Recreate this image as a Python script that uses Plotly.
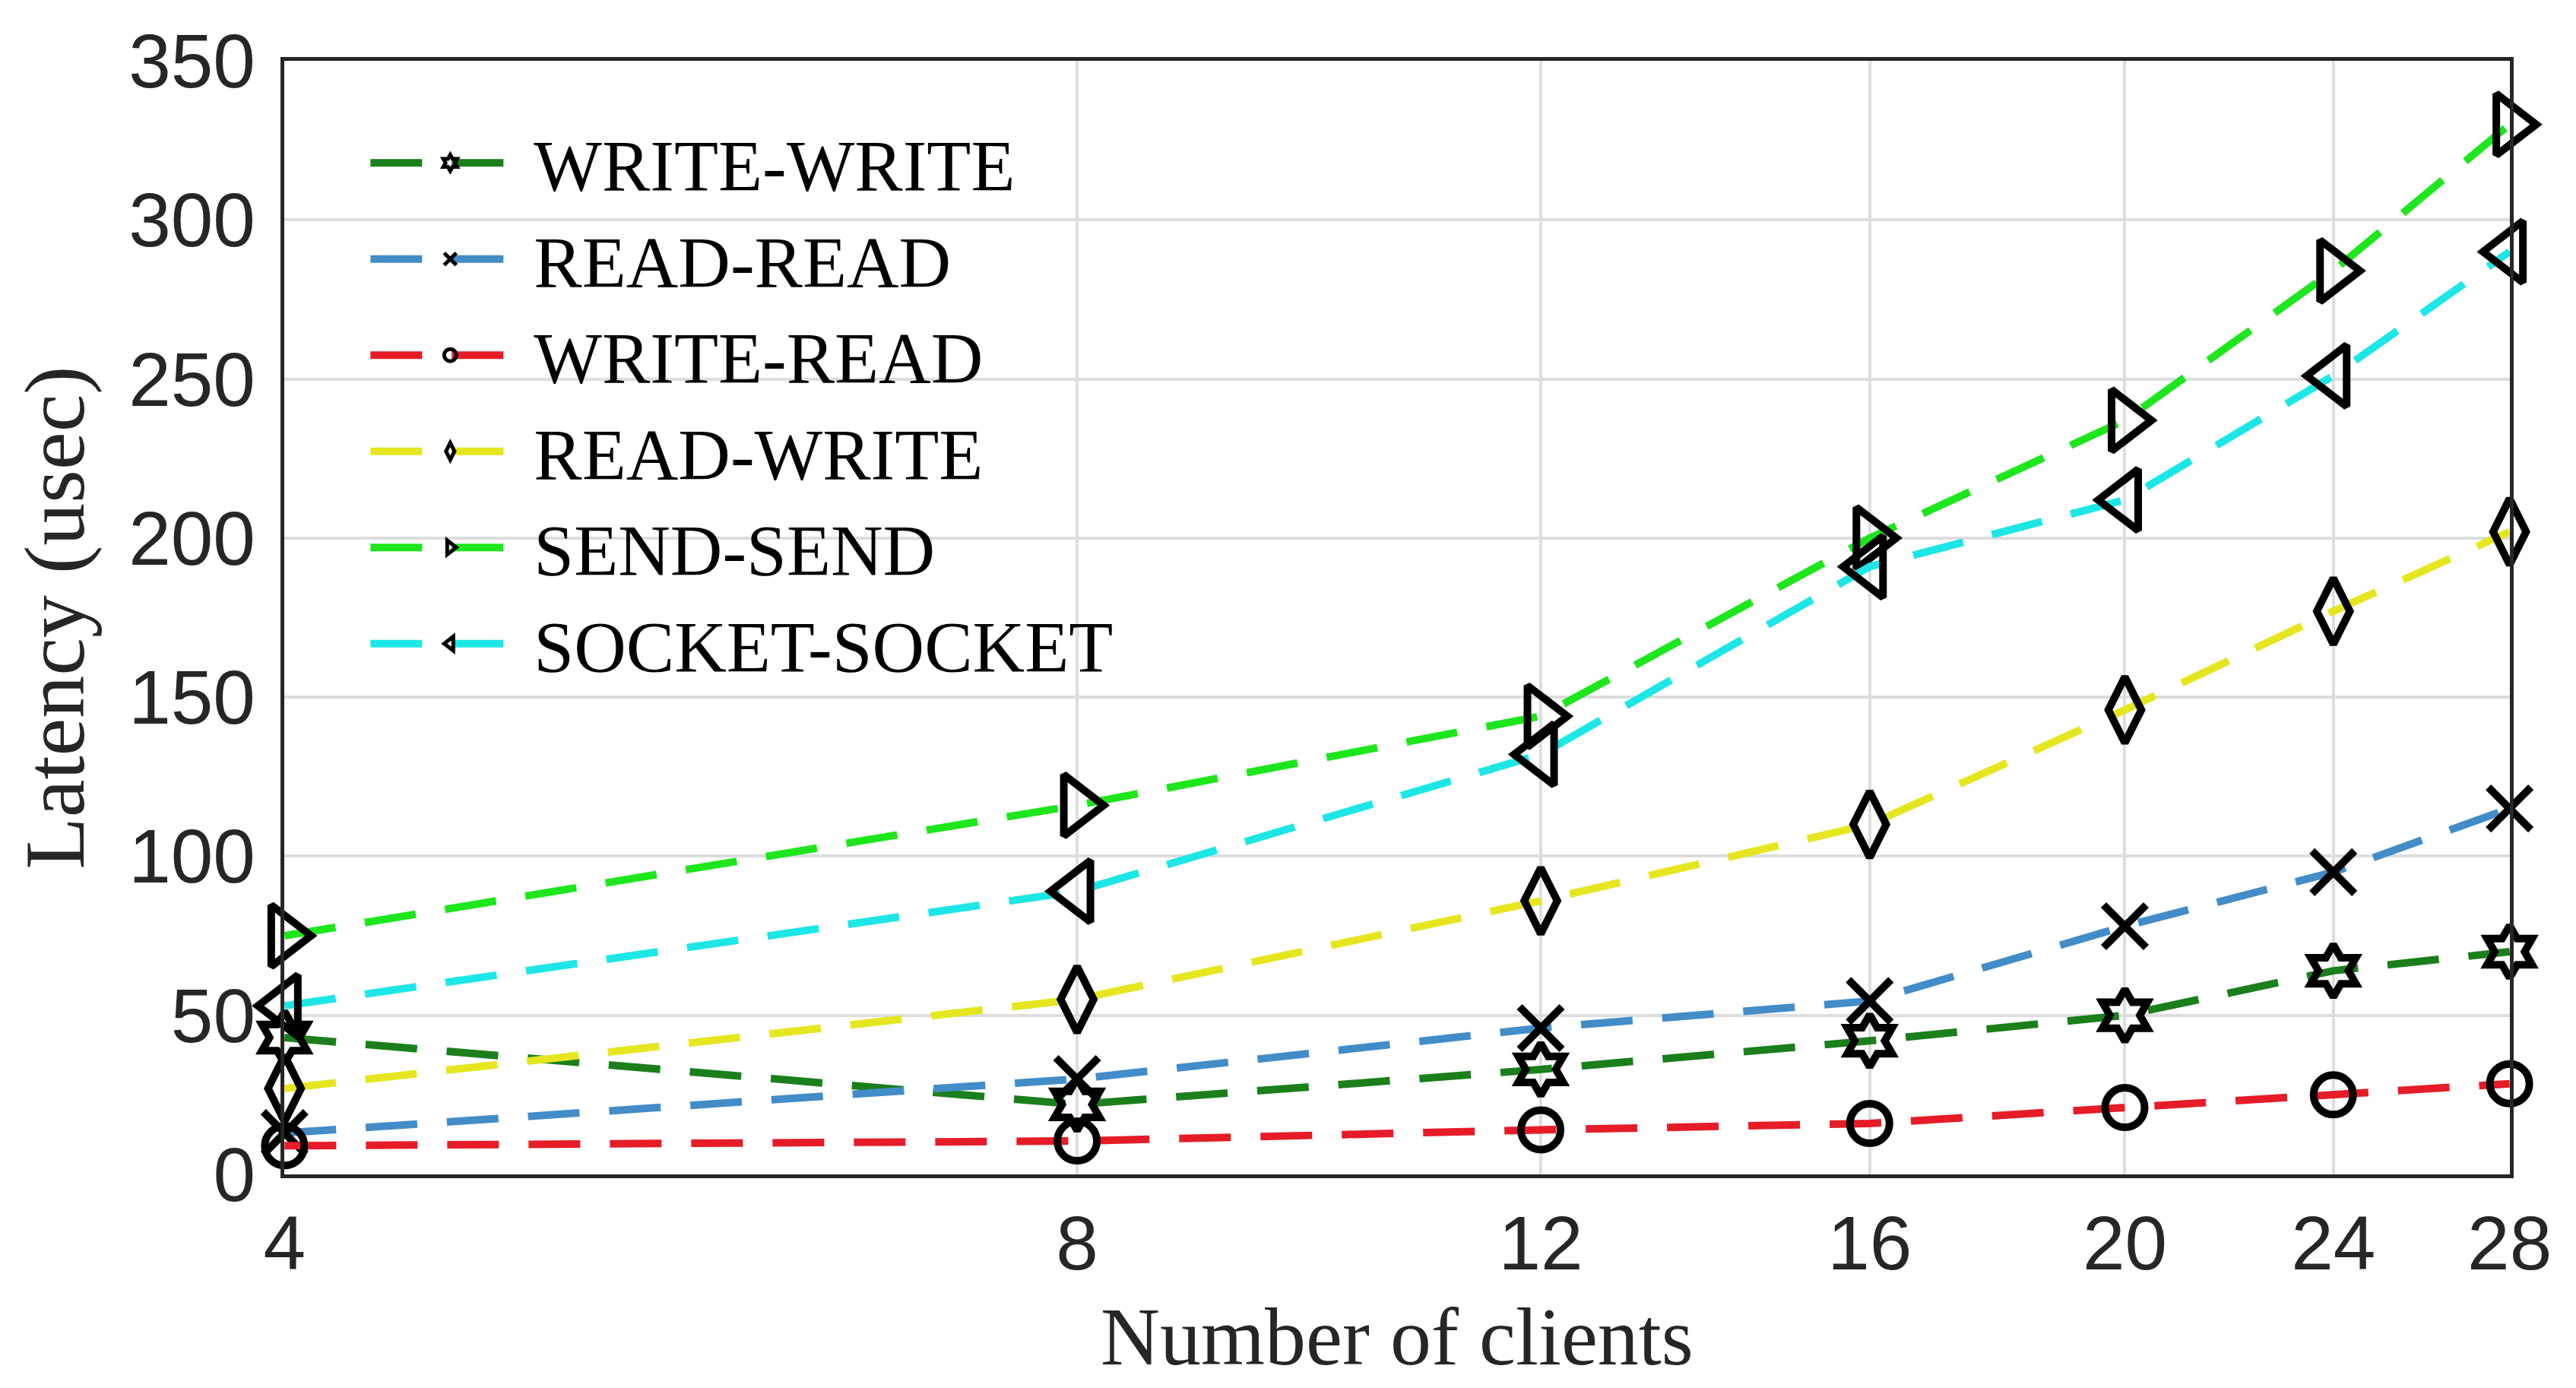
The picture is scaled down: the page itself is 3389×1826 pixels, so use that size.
import math

import plotly.graph_objects as go

# Latência por número de clientes
clients = [4, 8, 12, 16, 20, 24, 28]
write_write = [43, 22, 33, 42, 50, 64, 70]
read_read = [13, 30, 46, 54.5, 78, 95, 115]
write_read = [9, 10.5, 14, 16, 21, 25, 28.5]
read_write = [27, 55, 86, 110, 146, 177, 202]
send_send = [75, 116, 144, 200, 237, 284, 330]
socket_socket = [53, 89, 132, 191, 212, 251, 290]

series = [
    ("WRITE-WRITE", write_write, "#1b7f1b", "hexagram-open", 52),
    ("READ-READ", read_read, "#428cc8", "x-thin-open", 56),
    ("WRITE-READ", write_read, "#e61c27", "circle-open", 52),
    ("READ-WRITE", read_write, "#e6e620", "diamond-tall-open", 62),
    ("SEND-SEND", send_send, "#1de61d", "triangle-right-open", 70),
    ("SOCKET-SOCKET", socket_socket, "#1de6e6", "triangle-left-open", 70),
]

serif = "Liberation Serif, Times New Roman, serif"
sans = "Liberation Sans, Arial, sans-serif"

fig = go.Figure()
for name, vals, color, symbol, size in series:
    fig.add_trace(go.Scatter(
        x=clients,
        y=vals,
        name=name,
        mode="lines+markers",
        cliponaxis=False,
        line=dict(color=color, width=10, dash="68px,39px"),
        marker=dict(symbol=symbol, size=size, color="black",
                    line=dict(color="black", width=10)),
    ))

# a página tem 8px de margem no body
fig.update_layout(
    width=3373,
    height=1810,
    paper_bgcolor="white",
    plot_bgcolor="white",
    margin=dict(l=366, r=79, t=72, b=273),
    legend=dict(
        x=0.037, y=0.955, xanchor="left", yanchor="top",
        bgcolor="rgba(0,0,0,0)",
        font=dict(family=serif, size=95, color="black"),
        itemwidth=210,
        tracegroupgap=0,
    ),
)

fig.update_xaxes(
    type="log",
    range=[math.log10(4) - 1e-4, math.log10(28) + 1e-4],
    tickvals=clients,
    ticktext=[str(c) for c in clients],
    showgrid=True, gridcolor="#dddddd", gridwidth=4,
    showline=True, linecolor="#262626", linewidth=5, mirror=True,
    ticks="", ticklen=0, ticklabelstandoff=0,
    tickfont=dict(family=sans, size=100, color="#262626"),
    title=dict(text="Number of clients", standoff=54,
               font=dict(family=serif, size=108, color="#262626")),
    zeroline=False,
    automargin=False,
)
fig.update_yaxes(
    range=[0, 350],
    tickvals=[0, 50, 100, 150, 200, 250, 300, 350],
    showgrid=True, gridcolor="#dddddd", gridwidth=4,
    showline=True, linecolor="#262626", linewidth=5, mirror=True,
    ticks="", ticklen=0, ticklabelstandoff=13,
    tickfont=dict(family=sans, size=100, color="#262626"),
    title=dict(text="Latency (usec)", standoff=22,
               font=dict(family=serif, size=112, color="#262626")),
    zeroline=False,
    automargin=False,
)

fig.write_html("out.html")
